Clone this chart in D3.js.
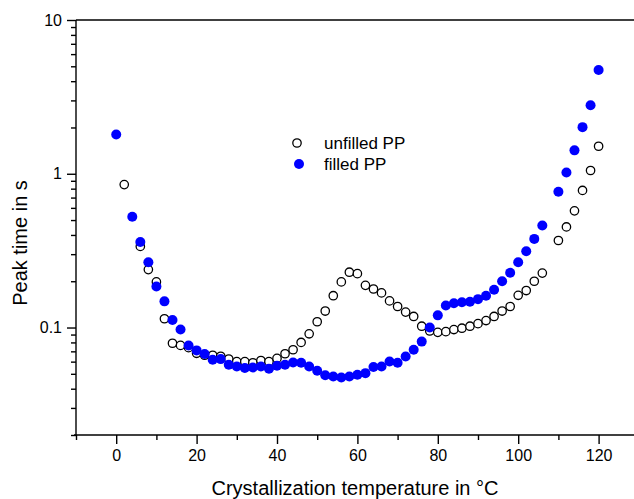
<!DOCTYPE html>
<html>
<head>
<meta charset="utf-8">
<script src="https://cdn.jsdelivr.net/npm/d3@7"></script>
<style>
  body { margin: 0; background: #fff; }
  svg text { font-family: Arial, "Liberation Sans", sans-serif; fill: #000; }
</style>
</head>
<body>
<div id="chart"></div>
<script>
// unfilled PP (open circles)
var unfilledT = [2, 6, 8, 10, 12, 14, 16, 18, 20, 22, 24, 26, 28, 30, 32, 34, 36, 38, 40,
  42, 44, 46, 48, 50, 52, 54, 56, 58, 60, 62, 64, 66, 68, 70, 72, 74, 76, 78, 80,
  82, 84, 86, 88, 90, 92, 94, 96, 98, 100, 102, 104, 106, 110, 112, 114, 116, 118, 120];
var unfilledV = [0.85, 0.337, 0.238, 0.198, 0.114, 0.079, 0.0765, 0.074, 0.068, 0.066, 0.066, 0.065, 0.0624, 0.060, 0.060, 0.059, 0.061, 0.060, 0.063,
  0.0675, 0.0717, 0.080, 0.091, 0.109, 0.128, 0.161, 0.198, 0.229, 0.224, 0.188, 0.178, 0.168, 0.149, 0.137, 0.126, 0.118, 0.102, 0.095, 0.093,
  0.094, 0.097, 0.099, 0.102, 0.106, 0.111, 0.118, 0.128, 0.137, 0.162, 0.174, 0.200, 0.226, 0.368, 0.451, 0.574, 0.779, 1.05, 1.51];

// filled PP (blue dots)
var filledT = [0, 4, 6, 8, 10, 12, 14, 16, 18, 20, 22, 24, 26, 28, 30, 32, 34, 36, 38, 40,
  42, 44, 46, 48, 50, 52, 54, 56, 58, 60, 62, 64, 66, 68, 70, 72, 74, 76, 78, 80,
  82, 84, 86, 88, 90, 92, 94, 96, 98, 100, 102, 104, 106, 110, 112, 114, 116, 118, 120];
var filledV = [1.80, 0.525, 0.360, 0.266, 0.185, 0.148, 0.112, 0.097, 0.0764, 0.071, 0.0672, 0.0617, 0.0623, 0.0573, 0.0558, 0.0545, 0.0549, 0.0558, 0.0539, 0.0564,
  0.0573, 0.0593, 0.059, 0.0558, 0.0523, 0.049, 0.048, 0.0473, 0.048, 0.0493, 0.0505, 0.0553, 0.0558, 0.0601, 0.059, 0.0648, 0.0717, 0.081, 0.100, 0.120,
  0.139, 0.144, 0.146, 0.147, 0.153, 0.161, 0.176, 0.200, 0.227, 0.266, 0.313, 0.377, 0.461, 0.764, 1.02, 1.42, 2.01, 2.79, 4.73];

var xMajor = [0, 20, 40, 60, 80, 100, 120];
var xMinor = [-10, 10, 30, 50, 70, 90, 110, 130];
var yMajor = [0.1, 1, 10];
var yMinor = [0.02, 0.03, 0.04, 0.05, 0.06, 0.07, 0.08, 0.09,
  0.2, 0.3, 0.4, 0.5, 0.6, 0.7, 0.8, 0.9, 2, 3, 4, 5, 6, 7, 8, 9];

var width = 634, height = 499;
var plotLeft = 76, plotTop = 20, plotBottom = 435;

var svg = d3.select("#chart").append("svg")
  .attr("width", width)
  .attr("height", height);

var x = d3.scaleLinear().domain([-10, 130]).range([plotLeft, plotLeft + 140 * 4.02]);
var y = d3.scaleLog().domain([0.02, 10]).range([plotBottom, plotTop]);

// frame top line
svg.append("line")
  .attr("x1", plotLeft).attr("x2", width + 10)
  .attr("y1", plotTop).attr("y2", plotTop)
  .attr("stroke", "#000").attr("stroke-width", 1.4);

// axes
var gx = svg.append("g").attr("transform", "translate(0," + plotBottom + ")");
gx.call(d3.axisBottom(x).tickValues(xMajor).tickSize(9).tickSizeOuter(0).tickPadding(6).tickFormat(d3.format("d")));
gx.append("g").call(d3.axisBottom(x).tickValues(xMinor).tickSize(5).tickFormat(""))
  .select(".domain").remove();
gx.select(".domain").attr("d", "M" + (plotLeft - 2) + ",0H" + (width + 10));

var gy = svg.append("g").attr("transform", "translate(" + plotLeft + ",0)");
gy.call(d3.axisLeft(y).tickValues(yMajor).tickSize(9).tickSizeOuter(0).tickPadding(5)
  .tickFormat(function(d) { return d < 1 ? d3.format(".1f")(d) : d3.format("d")(d); }));
gy.append("g").call(d3.axisLeft(y).tickValues(yMinor).tickSize(5).tickFormat(""))
  .select(".domain").remove();
gy.select(".domain").attr("d", "M0," + plotTop + "V" + (plotBottom + 1));

svg.selectAll(".domain, .tick line").attr("stroke", "#000").attr("stroke-width", 1.4);
svg.selectAll(".tick text").style("font-size", "16px").attr("fill", "#000");

// axis titles
svg.append("text")
  .attr("x", 355).attr("y", 495)
  .attr("text-anchor", "middle")
  .style("font-size", "20px")
  .text("Crystallization temperature in \u00B0C");

svg.append("text")
  .attr("transform", "translate(27,243) rotate(-90)")
  .attr("text-anchor", "middle")
  .style("font-size", "20px")
  .text("Peak time in s");

// data
var plot = svg.append("g");
plot.selectAll("circle.unf")
  .data(d3.zip(unfilledT, unfilledV))
  .enter().append("circle")
  .attr("class", "unf")
  .attr("cx", function(d) { return x(d[0]); })
  .attr("cy", function(d) { return y(d[1]); })
  .attr("r", 4.2)
  .attr("fill", "#fff")
  .attr("stroke", "#000")
  .attr("stroke-width", 1.3);

plot.selectAll("circle.fil")
  .data(d3.zip(filledT, filledV))
  .enter().append("circle")
  .attr("class", "fil")
  .attr("cx", function(d) { return x(d[0]); })
  .attr("cy", function(d) { return y(d[1]); })
  .attr("r", 5)
  .attr("fill", "#0000ff");

// legend
var legend = svg.append("g");
legend.append("circle").attr("cx", 297).attr("cy", 143).attr("r", 4.2)
  .attr("fill", "#fff").attr("stroke", "#000").attr("stroke-width", 1.3);
legend.append("circle").attr("cx", 299).attr("cy", 164).attr("r", 5).attr("fill", "#0000ff");
legend.append("text").attr("x", 324).attr("y", 149).style("font-size", "17px").text("unfilled PP");
legend.append("text").attr("x", 324).attr("y", 170).style("font-size", "17px").text("filled PP");
</script>
</body>
</html>
